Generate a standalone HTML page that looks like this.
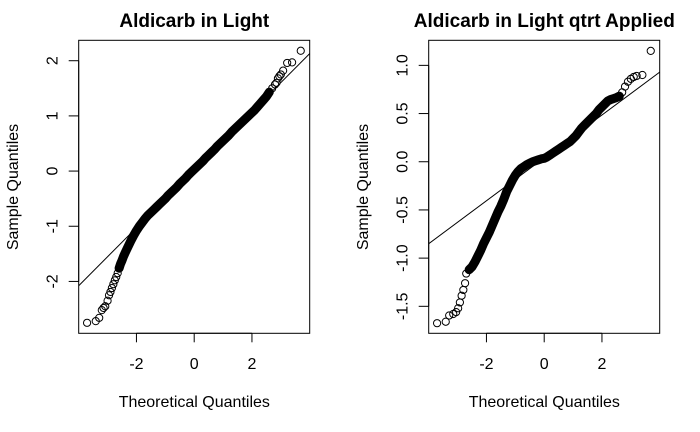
<!DOCTYPE html>
<html><head><meta charset="utf-8"><style>
body{margin:0;background:#fff}
svg{display:block}
text{font-family:"Liberation Sans",sans-serif;fill:#000}
</style></head><body>
<svg id="c" width="700" height="432" viewBox="0 0 700 432"></svg>
<script>
// Left panel data: theoretical and sample quantiles
const tqLeft=[-3.71,-3.41,-3.29,-3.2,-3.14,-3.08,-3.0,-2.95,-2.9,-2.85,-2.8,-2.75,-2.7,-2.65,-2.6,-2.55,-2.5,-2.45,-2.4,-2.3,-2.2,-2.1,-2.0,-1.9,-1.8,-1.7,-1.6,-1.5,-1.4,-1.3,-1.2,-1.1,-1.0,-0.9,-0.8,-0.7,-0.6,-0.5,-0.4,-0.3,-0.2,-0.1,0,0.1,0.2,0.3,0.4,0.5,0.6,0.7,0.8,0.9,1.0,1.1,1.2,1.3,1.4,1.5,1.6,1.7,1.8,1.9,2.0,2.1,2.2,2.3,2.4,2.5,2.6,2.7,2.8,2.85,2.9,2.95,3.0,3.08,3.22,3.39,3.69];
const sqLeft=[-2.75,-2.72,-2.66,-2.52,-2.48,-2.45,-2.35,-2.25,-2.19,-2.12,-2.05,-1.98,-1.92,-1.85,-1.76,-1.68,-1.62,-1.55,-1.49,-1.38,-1.27,-1.17,-1.08,-1.0,-0.93,-0.86,-0.8,-0.75,-0.7,-0.65,-0.6,-0.55,-0.5,-0.44,-0.39,-0.34,-0.29,-0.23,-0.18,-0.13,-0.07,-0.02,0.03,0.08,0.13,0.18,0.24,0.29,0.34,0.39,0.45,0.5,0.55,0.6,0.65,0.71,0.76,0.81,0.86,0.91,0.96,1.01,1.06,1.11,1.17,1.23,1.29,1.35,1.43,1.5,1.57,1.6,1.68,1.72,1.75,1.82,1.96,1.97,2.18];
const lineLeft=[0.026,0.526]; // intercept, slope
const yTicksLeft=[-2,-1,0,1,2];
const yLabelsLeft=["-2","-1","0","1","2"];
// Right panel data
const tqRight=[-3.71,-3.41,-3.29,-3.15,-3.05,-2.98,-2.92,-2.86,-2.8,-2.74,-2.7,-2.6,-2.5,-2.4,-2.3,-2.2,-2.1,-2.0,-1.9,-1.8,-1.7,-1.6,-1.5,-1.4,-1.3,-1.2,-1.1,-1.0,-0.9,-0.8,-0.7,-0.6,-0.5,-0.4,-0.3,-0.2,-0.1,0,0.1,0.2,0.3,0.4,0.5,0.6,0.7,0.8,0.9,1.0,1.1,1.2,1.3,1.4,1.5,1.6,1.7,1.8,1.9,2.0,2.1,2.2,2.3,2.4,2.5,2.6,2.7,2.8,2.9,3.0,3.1,3.2,3.4,3.69];
const sqRight=[-1.675,-1.66,-1.595,-1.58,-1.56,-1.52,-1.46,-1.39,-1.33,-1.26,-1.16,-1.12,-1.09,-1.04,-0.98,-0.92,-0.85,-0.79,-0.73,-0.66,-0.59,-0.52,-0.46,-0.39,-0.31,-0.25,-0.19,-0.14,-0.1,-0.07,-0.05,-0.03,-0.015,0,0.01,0.02,0.03,0.035,0.05,0.07,0.09,0.11,0.13,0.15,0.17,0.19,0.21,0.24,0.27,0.31,0.35,0.38,0.41,0.44,0.47,0.5,0.54,0.57,0.6,0.63,0.645,0.655,0.665,0.68,0.72,0.78,0.83,0.86,0.88,0.89,0.9,1.15];
const lineRight=[0.04,0.2225];
const yTicksRight=[-1.5,-1.0,-0.5,0,0.5,1.0];
const yLabelsRight=["-1.5","-1.0","-0.5","0.0","0.5","1.0"];
const xTicks=[-2,0,2];
const xLabels=["-2","0","2"];

const NS="http://www.w3.org/2000/svg";
const svg=document.getElementById('c');
function mk(tag,attrs,parent){const e=document.createElementNS(NS,tag);for(const k in attrs)e.setAttribute(k,attrs[k]);(parent||svg).appendChild(e);return e;}

function panel(ox,title,tq,sq,ln,yMin,yMax,yT,yL,key){
  const L=ox+78.7,R=ox+309.7,T=40.3,B=333.3,xMin=-4,xMax=4;
  const sx=v=>L+(v-xMin)/(xMax-xMin)*(R-L);
  const sy=v=>B-(v-yMin)/(yMax-yMin)*(B-T);
  const g=mk('g',{});
  
  
  const t=mk('text',{x:ox+194.3,y:27,'text-anchor':'middle','font-size':'19','font-weight':'bold'},g);t.textContent=title;
  
  const box=mk('rect',{x:L,y:T,width:R-L,height:B-T,fill:'none',stroke:'#000','stroke-width':1},g);
  
  const xa=mk('g',{},g);
  mk('line',{x1:sx(xTicks[0]),x2:sx(xTicks[xTicks.length-1]),y1:B,y2:B,stroke:'#000'},xa);
  xTicks.forEach((v,i)=>{mk('line',{x1:sx(v),x2:sx(v),y1:B,y2:B+9,stroke:'#000'},xa);
    const tx=mk('text',{x:sx(v),y:369,'text-anchor':'middle','font-size':'16'},xa);tx.textContent=xLabels[i];});
  const ya=mk('g',{},g);
  mk('line',{x1:L,x2:L,y1:sy(yT[0]),y2:sy(yT[yT.length-1]),stroke:'#000'},ya);
  yT.forEach((v,i)=>{mk('line',{x1:L-10,x2:L,y1:sy(v),y2:sy(v),stroke:'#000'},ya);
    const tx=mk('text',{x:ox+57.5,y:sy(v),'text-anchor':'middle','font-size':'16',transform:`rotate(-90 ${ox+57.5} ${sy(v)})`},ya);tx.textContent=yL[i];});
  const xl=mk('text',{x:ox+194.3,y:407,'text-anchor':'middle','font-size':'16'},g);xl.textContent='Theoretical Quantiles';
  
  const yl=mk('text',{x:ox+18,y:187,'text-anchor':'middle','font-size':'16',transform:`rotate(-90 ${ox+18} 187)`},g);yl.textContent='Sample Quantiles';
  
  const cp=mk('clipPath',{id:'cp'+key},g);mk('rect',{x:L,y:T,width:R-L,height:B-T},cp);
  const ref=mk('line',{x1:sx(xMin),y1:sy(ln[0]+ln[1]*xMin),x2:sx(xMax),y2:sy(ln[0]+ln[1]*xMax),stroke:'#000','clip-path':`url(#cp${key})`},g);
  
  const pts=mk('g',{},g);
  const mid=[];tq.forEach((v,i)=>{if(Math.abs(v)<=2.6)mid.push(sx(v)+','+sy(sq[i]));});
  const band=mk('polyline',{points:mid.join(' '),fill:'none',stroke:'#000','stroke-width':9,'stroke-linejoin':'round','stroke-linecap':'round'},pts);
  
  tq.forEach((v,i)=>{const c=mk('circle',{cx:sx(v),cy:sy(sq[i]),r:3.6,fill:'none',stroke:'#000','stroke-width':1},pts);
    });
}
panel(0,'Aldicarb in Light',tqLeft,sqLeft,lineLeft,-2.94,2.37,yTicksLeft,yLabelsLeft,'left');
panel(350,'Aldicarb in Light qtrt Applied',tqRight,sqRight,lineRight,-1.78,1.26,yTicksRight,yLabelsRight,'right');
</script>
</body></html>
